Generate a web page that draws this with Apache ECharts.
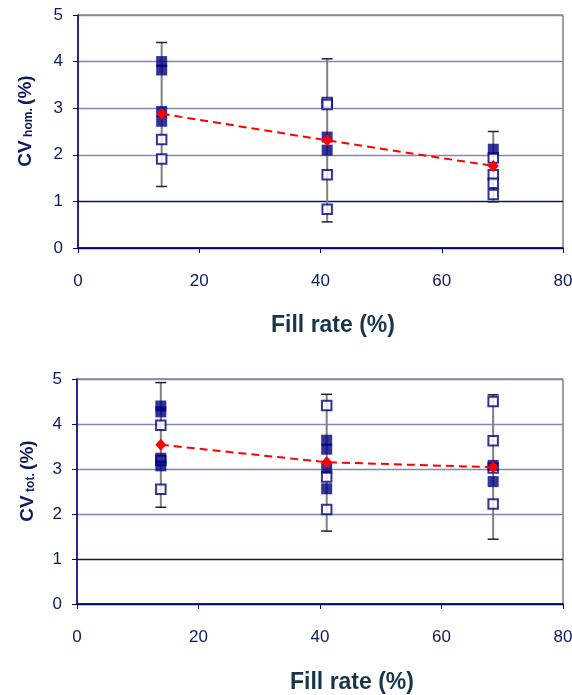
<!DOCTYPE html>
<html>
<head>
<meta charset="utf-8">
<script src="https://cdn.jsdelivr.net/npm/echarts@6/dist/echarts.min.js"></script>
<style>
  html, body { margin: 0; padding: 0; background: #fff; }
  #chart { width: 572px; height: 695px; }
</style>
</head>
<body>
<div id="chart"></div>
<script>
// fill rate of the three groups (%)
const fillRate = [13.8, 41.1, 68.5];

// CV hom. (%) -- one inner list per fill rate
const homFilled = [[4.00, 3.82, 2.93, 2.72], [2.38, 2.10], [2.12]];
const homOpen = [[2.33, 1.91], [3.12, 3.08, 1.57, 0.83], [1.93, 1.57, 1.39, 1.15]];
const homMean = [2.88, 2.31, 1.76];
const homErrLow = [1.32, 0.56, 0.99];
const homErrHigh = [4.41, 4.06, 2.50];

// CV tot. (%)
const totFilled = [[4.40, 4.27, 3.24, 3.07], [3.64, 3.44, 3.02, 2.56], [3.08, 2.72]];
const totOpen = [[3.97, 3.19, 2.55], [4.41, 2.82, 2.10], [4.50, 3.63, 3.02, 2.22]];
const totMean = [3.54, 3.15, 3.04];
const totErrLow = [2.15, 1.62, 1.44];
const totErrHigh = [4.92, 4.66, 4.65];

const xTicks = [0, 20, 40, 60, 80];
const yTicks = [0, 1, 2, 3, 4, 5];

const NAVY = '#000080';
const LABEL = '#0d1a5c';
const FONT = '"Liberation Sans", Arial, sans-serif';

// flatten [[..], [..], [..]] into [x, y] points
function points(groups) {
  const out = [];
  groups.forEach((vals, i) => vals.forEach(v => out.push([fillRate[i], v])));
  return out;
}

function errData(lo, hi) {
  return fillRate.map((x, i) => [x, lo[i], hi[i]]);
}

function renderErr(params, api) {
  const x = api.value(0);
  const lo = api.coord([x, api.value(1)]);
  const hi = api.coord([x, api.value(2)]);
  const w = 5.5;
  return {
    type: 'group',
    children: [
      { type: 'line', shape: { x1: lo[0], y1: lo[1], x2: hi[0], y2: hi[1] },
        style: { stroke: '#808080', lineWidth: 2 } },
      { type: 'line', shape: { x1: hi[0] - w, y1: hi[1], x2: hi[0] + w, y2: hi[1] },
        style: { stroke: '#222', lineWidth: 1.5 } },
      { type: 'line', shape: { x1: lo[0] - w, y1: lo[1], x2: lo[0] + w, y2: lo[1] },
        style: { stroke: '#222', lineWidth: 1.5 } }
    ]
  };
}

function xAxis(gi) {
  return {
    type: 'value', gridIndex: gi, min: xTicks[0], max: xTicks[xTicks.length - 1], interval: 20,
    axisLine: { show: true, onZero: false, lineStyle: { color: NAVY, width: 1.5 } },
    axisTick: { show: true, length: 5, lineStyle: { color: NAVY } },
    axisLabel: { color: LABEL, fontSize: 17, fontFamily: FONT, margin: 25 },
    splitLine: { show: false }
  };
}

function yAxis(gi) {
  return {
    type: 'value', gridIndex: gi, min: yTicks[0], max: yTicks[yTicks.length - 1], interval: 1,
    axisLine: { show: true, onZero: false, lineStyle: { color: NAVY, width: 1.5 } },
    axisTick: { show: true, length: 5, lineStyle: { color: NAVY } },
    axisLabel: { color: LABEL, fontSize: 17, fontFamily: FONT, margin: 15 },
    splitLine: { show: true, lineStyle: { width: 1.3,
      color: ['#0a1460', '#0a1460', '#7f89b3', '#7f89b3', '#7f89b3', '#7f89b3'] } }
  };
}

function seriesFor(gi, filled, open, mean, lo, hi) {
  return [
    { type: 'custom', xAxisIndex: gi, yAxisIndex: gi, renderItem: renderErr,
      data: errData(lo, hi), encode: { x: 0, y: [1, 2] }, z: 2 },
    { type: 'scatter', xAxisIndex: gi, yAxisIndex: gi, data: points(open),
      symbol: 'rect', symbolSize: 9.5, z: 3,
      itemStyle: { color: '#fff', borderColor: NAVY, borderWidth: 2 } },
    { type: 'scatter', xAxisIndex: gi, yAxisIndex: gi, data: points(filled),
      symbol: 'rect', symbolSize: 11, z: 4, itemStyle: { color: NAVY } },
    { type: 'line', xAxisIndex: gi, yAxisIndex: gi,
      data: fillRate.map((x, i) => [x, mean[i]]),
      symbol: 'diamond', symbolSize: [11, 12], z: 5,
      itemStyle: { color: '#ff0000' },
      lineStyle: { color: '#ff0000', width: 2, type: [8, 5] } }
  ];
}

function yTitle(x, y, sub) {
  return {
    type: 'text', x: x, y: y, rotation: Math.PI / 2, z: 10,
    style: {
      text: '{a|CV} {b|' + sub + '} {a|(%)}',
      align: 'center', verticalAlign: 'middle',
      rich: {
        a: { fontSize: 19, fontWeight: 'bold', fontFamily: FONT, fill: '#0d1a5c',
             lineHeight: 30, verticalAlign: 'bottom' },
        b: { fontSize: 12, fontWeight: 'bold', fontFamily: FONT, fill: '#0d1a5c',
             lineHeight: 15, verticalAlign: 'bottom' }
      }
    }
  };
}

function xTitle(x, y) {
  return {
    type: 'text', x: x, y: y, z: 10,
    style: { text: 'Fill rate (%)', fontSize: 23, fontWeight: 'bold', fontFamily: FONT,
             fill: '#17364a', align: 'center', verticalAlign: 'middle' }
  };
}

const chart = echarts.init(document.getElementById('chart'), null, { renderer: 'canvas' });
chart.setOption({
  animation: false,
  backgroundColor: '#fff',
  grid: [
    { left: 78, right: 9, top: 15, height: 233, outerBoundsMode: 'none',
      show: true, borderColor: '#404040', borderWidth: 1 },
    { left: 77, right: 9, top: 379, height: 225, outerBoundsMode: 'none',
      show: true, borderColor: '#404040', borderWidth: 1 }
  ],
  xAxis: [xAxis(0), xAxis(1)],
  yAxis: [yAxis(0), yAxis(1)],
  series: [
    ...seriesFor(0, homFilled, homOpen, homMean, homErrLow, homErrHigh),
    ...seriesFor(1, totFilled, totOpen, totMean, totErrLow, totErrHigh)
  ],
  graphic: [
    yTitle(20, 121, 'hom.'),
    yTitle(22, 481, 'tot.'),
    xTitle(333, 326),
    xTitle(352, 683)
  ]
});
</script>
</body>
</html>
